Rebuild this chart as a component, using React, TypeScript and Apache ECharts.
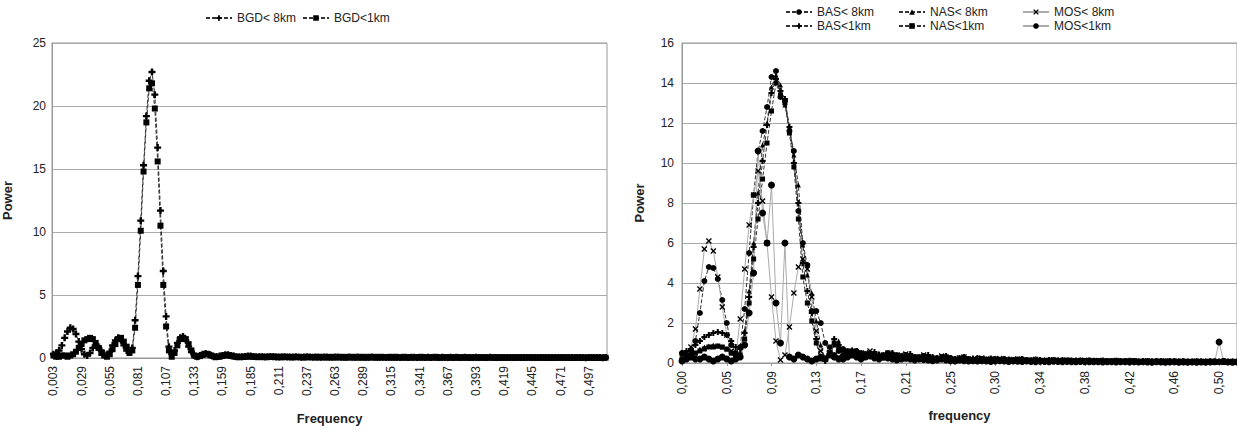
import React, { useEffect, useRef } from "react";
import * as echarts from "echarts";

// ---------- LEFT CHART DATA (frequency = i/384, i = 1..197) ----------
const leftCategories = Array.from({ length: 197 }, (_, k) => ((k + 1) / 384).toFixed(3).replace(".", ","));
const leftTicksY = [0, 5, 10, 15, 20, 25];

const bgd8 = [
  0.3, 0.4, 0.6, 1.0, 1.6, 2.1, 2.4, 2.3, 1.9, 1.3, 0.7, 0.3, 0.2, 0.4, 0.8, 1.0, 0.9, 0.6, 0.3, 0.2, 0.5, 1.0, 1.4, 1.6, 1.4, 1.0, 0.6, 0.5,
  0.8, 3.0, 6.5, 10.9, 15.3, 19.2, 22.0, 22.7, 20.9, 16.7, 11.7, 6.9, 3.3, 0.9,
  0.3, 0.6, 1.2, 1.6, 1.7, 1.4, 0.9, 0.5, 0.2, 0.1, 0.2, 0.3, 0.35, 0.3, 0.2, 0.1, 0.1, 0.15, 0.2, 0.25, 0.25, 0.2, 0.15, 0.1, 0.1, 0.1, 0.12, 0.15, 0.15, 0.12, 0.1,
  0.1, 0.09, 0.08, 0.1, 0.12, 0.1, 0.08, 0.07, 0.09, 0.1,
  0.08, 0.07, 0.08, 0.09, 0.07, 0.06, 0.08, 0.09, 0.07, 0.06,
  0.07, 0.08, 0.06, 0.07, 0.08, 0.06, 0.05, 0.07, 0.08, 0.06,
  0.05, 0.06, 0.07, 0.05, 0.06, 0.07, 0.05, 0.06, 0.05, 0.06,
  0.07, 0.05, 0.05, 0.06, 0.05, 0.04, 0.06, 0.05, 0.05, 0.06,
  0.04, 0.05, 0.06, 0.04, 0.05, 0.05, 0.04, 0.06, 0.05, 0.04,
  0.05, 0.04, 0.05, 0.05, 0.04, 0.05, 0.04, 0.04, 0.05, 0.04,
  0.05, 0.04, 0.04, 0.05, 0.04, 0.03, 0.04, 0.05, 0.04, 0.04,
  0.03, 0.04, 0.05, 0.04, 0.03, 0.04, 0.04, 0.03, 0.04, 0.04,
  0.03, 0.04, 0.03, 0.04, 0.04, 0.03, 0.04, 0.03, 0.03, 0.04,
  0.03, 0.04, 0.03, 0.03, 0.04, 0.03, 0.03, 0.04, 0.03, 0.03,
  0.04, 0.03, 0.03, 0.04, 0.03, 0.03, 0.02, 0.03, 0.03, 0.04,
  0.03, 0.03, 0.02, 0.03,
];

const bgd1 = [
  0.2, 0.1, 0.1, 0.2, 0.2, 0.1, 0.2, 0.3, 0.5, 0.8, 1.1, 1.4, 1.5, 1.6, 1.5, 1.2, 0.8, 0.4, 0.2, 0.1, 0.3, 0.7, 1.1, 1.5, 1.6, 1.3, 0.9, 0.4,
  0.6, 2.4, 5.8, 10.1, 14.8, 18.7, 21.4, 21.8, 19.8, 15.6, 10.5, 5.8, 2.5, 0.6,
  0.1, 0.4, 1.0, 1.5, 1.6, 1.5, 1.1, 0.6, 0.2, 0.1, 0.15, 0.25, 0.3, 0.3, 0.2, 0.12, 0.08, 0.1, 0.18, 0.22, 0.22, 0.18, 0.12, 0.08, 0.07, 0.08, 0.1, 0.12, 0.12, 0.1, 0.08,
  0.08, 0.1, 0.09, 0.07, 0.08, 0.11, 0.09, 0.07, 0.06, 0.08,
  0.09, 0.07, 0.06, 0.07, 0.08, 0.07, 0.05, 0.06, 0.08, 0.07,
  0.06, 0.05, 0.07, 0.06, 0.05, 0.07, 0.06, 0.05, 0.06, 0.07,
  0.05, 0.04, 0.06, 0.06, 0.05, 0.04, 0.06, 0.05, 0.04, 0.05,
  0.06, 0.05, 0.04, 0.05, 0.06, 0.05, 0.04, 0.05, 0.04, 0.05,
  0.05, 0.04, 0.04, 0.05, 0.04, 0.05, 0.05, 0.04, 0.04, 0.05,
  0.04, 0.04, 0.05, 0.04, 0.03, 0.04, 0.05, 0.04, 0.04, 0.03,
  0.04, 0.04, 0.03, 0.04, 0.04, 0.03, 0.04, 0.04, 0.03, 0.04,
  0.03, 0.03, 0.04, 0.04, 0.03, 0.03, 0.04, 0.03, 0.03, 0.04,
  0.03, 0.03, 0.04, 0.03, 0.03, 0.03, 0.04, 0.03, 0.03, 0.03,
  0.04, 0.03, 0.03, 0.03, 0.02, 0.03, 0.03, 0.04, 0.03, 0.03,
  0.03, 0.02, 0.03, 0.03, 0.03, 0.02, 0.03, 0.03, 0.02, 0.03,
  0.03, 0.02, 0.03, 0.03,
];

// ---------- RIGHT CHART DATA (frequency = (j+1)/240, j = 0..124) ----------
const rightCategories = Array.from({ length: 125 }, (_, k) => ((k + 1) / 240).toFixed(2).replace(".", ","));
const rightTicksY = [0, 2, 4, 6, 8, 10, 12, 14, 16];

const bas8 = [
  0.5, 0.4, 0.6, 1.1, 2.5, 4.1, 4.8, 4.75, 4.2, 3.15, 2.0, 0.9, 0.5,
  0.8, 2.7, 5.5, 8.4, 10.6, 11.6, 12.8, 14.3, 14.6, 13.3, 13.1, 11.6, 10.6, 7.6, 6.0, 4.9, 2.6, 2.6, 2.0, 1.0, 0.5, 0.4, 0.6,
  0.7, 0.6, 0.5, 0.6, 0.5, 0.4, 0.5, 0.4, 0.35, 0.4,
  0.5, 0.45, 0.4, 0.3, 0.35, 0.3, 0.25, 0.3, 0.35, 0.3,
  0.25, 0.2, 0.25, 0.3, 0.25, 0.2, 0.2, 0.25, 0.2, 0.15,
  0.2, 0.2, 0.15, 0.2, 0.18, 0.15, 0.2, 0.15, 0.12, 0.15,
  0.18, 0.15, 0.12, 0.15, 0.12, 0.1, 0.12, 0.15, 0.12, 0.1,
  0.1, 0.12, 0.1, 0.08, 0.1, 0.12, 0.1, 0.08, 0.1, 0.09,
  0.08, 0.1, 0.08, 0.09, 0.1, 0.08, 0.07, 0.08, 0.1, 0.08,
  0.07, 0.08, 0.07, 0.09, 0.08, 0.07, 0.08, 0.07, 0.06, 0.08,
  0.07, 0.06, 0.08, 0.07, 0.06, 0.07, 0.06, 0.07, 0.06,
];

const nas8 = [
  0.3, 0.3, 0.4, 0.5, 0.7, 0.8, 0.85, 0.9, 0.85, 0.8, 0.7, 0.5, 0.3,
  0.5, 1.6, 3.6, 6.0, 8.5, 10.9, 12.0, 13.8, 14.4, 13.9, 12.9, 11.8, 10.4, 8.9, 5.9, 4.4, 3.5, 2.1, 0.9, 0.2, 0.4, 0.9, 1.1,
  0.5, 0.6, 0.7, 0.55, 0.45, 0.5, 0.4, 0.45, 0.5, 0.35,
  0.3, 0.4, 0.35, 0.4, 0.3, 0.25, 0.3, 0.28, 0.22, 0.25,
  0.3, 0.25, 0.2, 0.22, 0.28, 0.25, 0.18, 0.2, 0.22, 0.18,
  0.15, 0.18, 0.2, 0.16, 0.14, 0.18, 0.15, 0.12, 0.14, 0.16,
  0.13, 0.12, 0.15, 0.12, 0.1, 0.13, 0.11, 0.1, 0.12, 0.1,
  0.09, 0.11, 0.1, 0.12, 0.09, 0.1, 0.08, 0.1, 0.09, 0.08,
  0.1, 0.09, 0.08, 0.1, 0.07, 0.09, 0.08, 0.07, 0.09, 0.08,
  0.07, 0.08, 0.06, 0.08, 0.07, 0.06, 0.08, 0.07, 0.06, 0.07,
  0.06, 0.07, 0.05, 0.07, 0.06, 0.05, 0.06, 0.07, 0.06,
];

const mos8 = [
  0.3, 0.5, 0.8, 1.7, 3.7, 5.7, 6.1, 5.6, 4.3, 2.8, 1.4, 0.6, 0.3,
  2.2, 4.7, 6.9, 8.4, 9.6, 8.1, 6.0, 3.3, 1.1, 0.15, 0.4, 1.8, 3.5, 4.8, 5.2, 4.7, 3.3, 1.6, 0.6, 0.3, 0.5, 0.4, 0.3,
  0.3, 0.5, 0.6, 0.4, 0.3, 0.5, 0.6, 0.4, 0.3, 0.4,
  0.5, 0.3, 0.25, 0.4, 0.45, 0.3, 0.2, 0.3, 0.4, 0.3,
  0.2, 0.25, 0.35, 0.3, 0.2, 0.15, 0.25, 0.3, 0.2, 0.15,
  0.2, 0.25, 0.2, 0.15, 0.2, 0.22, 0.15, 0.12, 0.18, 0.2,
  0.15, 0.1, 0.15, 0.18, 0.12, 0.1, 0.14, 0.15, 0.1, 0.12,
  0.15, 0.1, 0.08, 0.12, 0.14, 0.1, 0.08, 0.12, 0.1, 0.08,
  0.1, 0.12, 0.08, 0.07, 0.1, 0.11, 0.08, 0.07, 0.1, 0.08,
  0.07, 0.09, 0.1, 0.07, 0.06, 0.09, 0.08, 0.06, 0.08, 0.09,
  0.06, 0.07, 0.08, 0.06, 0.05, 0.08, 0.07, 0.06, 0.07,
];

const bas1 = [
  0.5, 0.6, 0.7, 0.9, 1.1, 1.3, 1.4, 1.5, 1.55, 1.5, 1.4, 1.1, 0.8,
  0.7, 1.5, 3.3, 5.8, 8.0, 10.1, 11.9, 13.5, 14.2, 13.6, 13.2, 11.8, 10.0, 8.0, 5.0, 3.6, 2.5, 1.2, 0.3, 0.1, 0.6, 1.2, 0.9,
  0.6, 0.5, 0.55, 0.6, 0.45, 0.4, 0.5, 0.55, 0.4, 0.35,
  0.45, 0.5, 0.35, 0.3, 0.4, 0.45, 0.3, 0.25, 0.35, 0.4,
  0.3, 0.25, 0.3, 0.35, 0.25, 0.2, 0.25, 0.3, 0.2, 0.22,
  0.25, 0.2, 0.18, 0.22, 0.2, 0.16, 0.2, 0.18, 0.15, 0.18,
  0.2, 0.15, 0.13, 0.17, 0.15, 0.12, 0.15, 0.14, 0.12, 0.15,
  0.13, 0.11, 0.13, 0.12, 0.1, 0.12, 0.11, 0.1, 0.12, 0.1,
  0.09, 0.11, 0.1, 0.09, 0.11, 0.1, 0.08, 0.1, 0.09, 0.08,
  0.1, 0.09, 0.08, 0.09, 0.08, 0.07, 0.09, 0.08, 0.07, 0.08,
  0.07, 0.08, 0.07, 0.06, 0.08, 0.07, 0.06, 0.07, 0.06,
];

const nas1 = [
  0.2, 0.3, 0.4, 0.5, 0.6, 0.7, 0.8, 0.8, 0.85, 0.8, 0.7, 0.5, 0.3,
  0.4, 1.2, 3.0, 5.2, 7.2, 9.2, 11.0, 12.6, 14.0, 13.4, 13.0, 11.5, 9.8, 7.2, 4.3, 3.0, 2.1, 1.0, 0.2, 0.2, 0.8, 1.0, 0.8,
  0.4, 0.5, 0.45, 0.35, 0.4, 0.3, 0.35, 0.4, 0.3, 0.25,
  0.3, 0.35, 0.3, 0.25, 0.2, 0.25, 0.3, 0.22, 0.2, 0.24,
  0.2, 0.18, 0.22, 0.25, 0.2, 0.16, 0.18, 0.2, 0.15, 0.17,
  0.2, 0.16, 0.14, 0.17, 0.15, 0.13, 0.16, 0.14, 0.12, 0.14,
  0.12, 0.1, 0.13, 0.12, 0.1, 0.11, 0.12, 0.1, 0.09, 0.11,
  0.1, 0.09, 0.1, 0.08, 0.1, 0.09, 0.08, 0.09, 0.1, 0.08,
  0.07, 0.09, 0.08, 0.07, 0.08, 0.09, 0.07, 0.08, 0.07, 0.06,
  0.08, 0.07, 0.06, 0.07, 0.08, 0.06, 0.07, 0.06, 0.05, 0.07,
  0.06, 0.05, 0.06, 0.07, 0.05, 0.06, 0.05, 0.06, 0.05,
];

const mos1 = [
  0.1, 0.2, 0.3, 0.2, 0.2, 0.3, 0.2, 0.1, 0.2, 0.3, 0.2, 0.1, 0.2,
  0.3, 0.9, 2.5, 4.5, 10.6, 7.5, 6.0, 8.9, 3.0, 1.0, 6.0, 0.3, 0.2, 0.4, 0.3, 0.2, 0.1, 0.2, 0.3, 0.2, 0.4, 0.3, 0.2,
  0.2, 0.3, 0.4, 0.3, 0.2, 0.3, 0.35, 0.25, 0.2, 0.3,
  0.25, 0.2, 0.15, 0.2, 0.25, 0.2, 0.15, 0.2, 0.18, 0.15,
  0.12, 0.15, 0.2, 0.15, 0.12, 0.1, 0.15, 0.12, 0.1, 0.12,
  0.1, 0.12, 0.1, 0.08, 0.1, 0.12, 0.1, 0.08, 0.1, 0.09,
  0.08, 0.1, 0.08, 0.07, 0.09, 0.08, 0.07, 0.09, 0.08, 0.07,
  0.08, 0.07, 0.06, 0.08, 0.07, 0.06, 0.07, 0.06, 0.05, 0.07,
  0.06, 0.05, 0.06, 0.07, 0.05, 0.06, 0.05, 0.06, 0.05, 0.04,
  0.06, 0.05, 0.04, 0.05, 0.06, 0.04, 0.05, 0.04, 0.05, 0.04,
  0.05, 0.04, 0.05, 0.06, 1.05, 0.08, 0.05, 0.04, 0.05,
];

const FONT = "Liberation Sans, Arial, sans-serif";
const PLUS = "path://M3.3,0H6.7V3.3H10V6.7H6.7V10H3.3V6.7H0V3.3H3.3Z";
const CROSS = "path://M1.6,0L5,3.4L8.4,0L10,1.6L6.6,5L10,8.4L8.4,10L5,6.6L1.6,10L0,8.4L3.4,5L0,1.6Z";

export default function App() {
  const ref = useRef<HTMLDivElement>(null);
  useEffect(() => {
    if (!ref.current) return;
    const chart = echarts.init(ref.current, undefined, { renderer: "svg" });

    const dashed = (name: string, data: number[], symbol: string, size: number, xi: number) => ({
      name,
      type: "line",
      xAxisIndex: xi,
      yAxisIndex: xi,
      data,
      symbol,
      symbolSize: size,
      showAllSymbol: true,
      lineStyle: { color: "#333", width: 1, type: [4, 2] },
      itemStyle: { color: "#000" },
      color: "#000",
    });
    const thin = (name: string, data: number[], symbol: string, size: number, xi: number) => ({
      name,
      type: "line",
      xAxisIndex: xi,
      yAxisIndex: xi,
      data,
      symbol,
      symbolSize: size,
      showAllSymbol: true,
      lineStyle: { color: "#aaa", width: 1 },
      itemStyle: { color: "#000" },
      color: "#000",
    });

    const axisLabel = { fontFamily: FONT, fontSize: 12, color: "#222" };
    const titleStyle = { fontFamily: FONT, fontSize: 13, fontWeight: "bold", color: "#222" };
    const legendBase = {
      itemWidth: 26,
      itemHeight: 7,
      itemGap: 6,
      textStyle: { fontFamily: FONT, fontSize: 12, color: "#222" },
      padding: 0,
    };
    const oneLegend = (name: string, left: number, top: number) => ({
      ...legendBase,
      data: [name],
      left,
      top,
    });

    chart.setOption({
      animation: false,
      backgroundColor: "#fff",
      legend: [
        { ...legendBase, data: ["BGD< 8km", "BGD<1km"], left: 205, top: 12 },
        oneLegend("BAS< 8km", 785, 6),
        oneLegend("NAS< 8km", 898, 6),
        oneLegend("MOS< 8km", 1022, 6),
        oneLegend("BAS<1km", 785, 20),
        oneLegend("NAS<1km", 898, 20),
        oneLegend("MOS<1km", 1022, 20),
      ],
      grid: [
        { left: 52, top: 43, width: 555, height: 315, show: true, borderColor: "#999", borderWidth: 1 },
        { left: 682, top: 43, width: 556, height: 320, show: true, borderColor: "#999", borderWidth: 1 },
      ],
      xAxis: [
        {
          type: "category",
          gridIndex: 0,
          data: leftCategories,
          boundaryGap: true,
          axisLine: { lineStyle: { color: "#999" } },
          axisTick: { show: false },
          axisLabel: { ...axisLabel, rotate: 90, interval: 9, margin: 8 },
          name: "Frequency",
          nameLocation: "middle",
          nameGap: 54,
          nameTextStyle: titleStyle,
        },
        {
          type: "category",
          gridIndex: 1,
          data: rightCategories,
          boundaryGap: false,
          axisLine: { lineStyle: { color: "#999" } },
          axisTick: { show: true, interval: 9, length: 3, lineStyle: { color: "#999" } },
          axisLabel: { ...axisLabel, rotate: 90, interval: 9, margin: 8 },
          name: "frequency",
          nameLocation: "middle",
          nameGap: 46,
          nameTextStyle: titleStyle,
        },
      ],
      yAxis: [
        {
          type: "value",
          gridIndex: 0,
          min: leftTicksY[0],
          max: leftTicksY[leftTicksY.length - 1],
          interval: 5,
          axisLine: { show: true, lineStyle: { color: "#999" } },
          axisTick: { show: false },
          splitLine: { lineStyle: { color: "#aaa", width: 1 } },
          axisLabel: { ...axisLabel, margin: 6 },
          name: "Power",
          nameLocation: "middle",
          nameGap: 38,
          nameRotate: 90,
          nameTextStyle: titleStyle,
        },
        {
          type: "value",
          gridIndex: 1,
          min: rightTicksY[0],
          max: rightTicksY[rightTicksY.length - 1],
          interval: 2,
          axisLine: { show: true, lineStyle: { color: "#999" } },
          axisTick: { show: false },
          splitLine: { lineStyle: { color: "#aaa", width: 1 } },
          axisLabel: { ...axisLabel, margin: 8 },
          name: "Power",
          nameLocation: "middle",
          nameGap: 36,
          nameRotate: 90,
          nameTextStyle: titleStyle,
        },
      ],
      series: [
        dashed("BGD< 8km", bgd8, PLUS, 7, 0),
        dashed("BGD<1km", bgd1, "rect", 6, 0),
        dashed("BAS< 8km", bas8, "circle", 6, 1),
        dashed("NAS< 8km", nas8, "triangle", 5, 1),
        thin("MOS< 8km", mos8, CROSS, 6, 1),
        dashed("BAS<1km", bas1, PLUS, 6, 1),
        dashed("NAS<1km", nas1, "rect", 5, 1),
        thin("MOS<1km", mos1, "circle", 7, 1),
      ],
    });
    return () => chart.dispose();
  }, []);
  return (
    <div
      ref={ref}
      style={{ position: "fixed", left: 0, top: 0, width: 1237, height: 430, background: "#fff" }}
    />
  );
}
